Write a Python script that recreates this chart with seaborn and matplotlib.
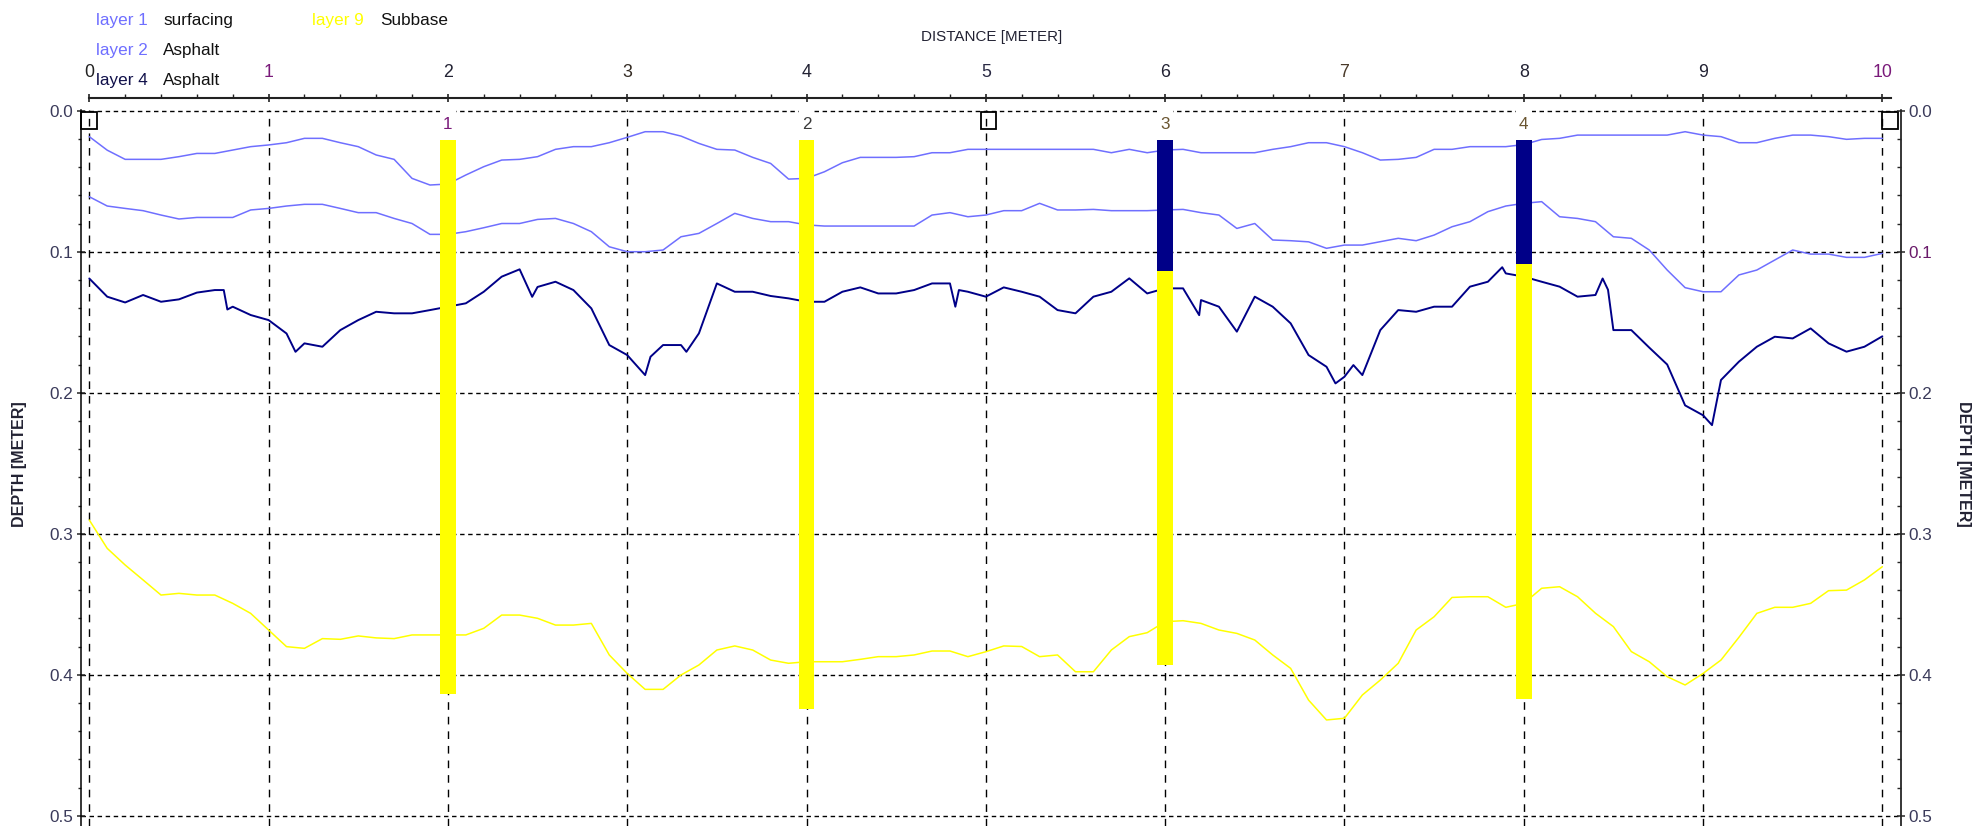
import numpy as np
import pandas as pd
import matplotlib
matplotlib.use("Agg")
import matplotlib.pyplot as plt
from matplotlib import font_manager
from matplotlib.patches import Rectangle
from matplotlib.ticker import MultipleLocator
import seaborn as sns

# ---------------- data ----------------
distance = np.round(np.arange(0, 10.0001, 0.1), 1)

layer1_depth = [
    0.0184, 0.0280, 0.0345, 0.0345, 0.0345, 0.0326, 0.0303, 0.0303, 0.0279, 0.0255,
    0.0243, 0.0227, 0.0196, 0.0196, 0.0227, 0.0255, 0.0314, 0.0345, 0.0480, 0.0527,
    0.0520, 0.0456, 0.0397, 0.0350, 0.0345, 0.0326, 0.0274, 0.0255, 0.0255, 0.0227,
    0.0189, 0.0149, 0.0149, 0.0180, 0.0232, 0.0274, 0.0279, 0.0331, 0.0374, 0.0485,
    0.0480, 0.0433, 0.0369, 0.0331, 0.0331, 0.0331, 0.0326, 0.0298, 0.0298, 0.0274,
    0.0274, 0.0274, 0.0274, 0.0274, 0.0274, 0.0274, 0.0274, 0.0298, 0.0274, 0.0298,
    0.0279, 0.0274, 0.0298, 0.0298, 0.0298, 0.0298, 0.0274, 0.0255, 0.0227, 0.0227,
    0.0255, 0.0298, 0.0350, 0.0345, 0.0331, 0.0274, 0.0274, 0.0255, 0.0255, 0.0255,
    0.0240, 0.0204, 0.0196, 0.0173, 0.0173, 0.0173, 0.0173, 0.0173, 0.0173, 0.0149,
    0.0173, 0.0184, 0.0227, 0.0227, 0.0196, 0.0173, 0.0173, 0.0184, 0.0203, 0.0196,
    0.0196]

layer2_depth = [
    0.0610, 0.0676, 0.0693, 0.0709, 0.0740, 0.0768, 0.0757, 0.0757, 0.0757, 0.0704,
    0.0693, 0.0676, 0.0664, 0.0664, 0.0693, 0.0723, 0.0723, 0.0764, 0.0800, 0.0877,
    0.0877, 0.0858, 0.0830, 0.0800, 0.0800, 0.0771, 0.0764, 0.0800, 0.0858, 0.0965,
    0.1000, 0.1000, 0.0988, 0.0894, 0.0870, 0.0800, 0.0728, 0.0764, 0.0787, 0.0787,
    0.0810, 0.0818, 0.0818, 0.0818, 0.0818, 0.0818, 0.0818, 0.0740, 0.0723, 0.0752,
    0.0740, 0.0709, 0.0709, 0.0657, 0.0704, 0.0704, 0.0700, 0.0709, 0.0709, 0.0709,
    0.0704, 0.0700, 0.0723, 0.0740, 0.0835, 0.0800, 0.0917, 0.0922, 0.0930, 0.0976,
    0.0953, 0.0953, 0.0929, 0.0905, 0.0922, 0.0882, 0.0823, 0.0787, 0.0716, 0.0676,
    0.0657, 0.0645, 0.0752, 0.0764, 0.0787, 0.0894, 0.0905, 0.0988, 0.1130, 0.1255,
    0.1284, 0.1284, 0.1165, 0.1130, 0.1059, 0.0988, 0.1017, 0.1017, 0.1040, 0.1040,
    0.1012]

layer9_depth = [
    0.2903, 0.3104, 0.3222, 0.3328, 0.3435, 0.3423, 0.3435, 0.3435, 0.3494, 0.3565,
    0.3683, 0.3801, 0.3813, 0.3744, 0.3749, 0.3725, 0.3739, 0.3744, 0.3718, 0.3718,
    0.3718, 0.3718, 0.3671, 0.3577, 0.3577, 0.3600, 0.3648, 0.3648, 0.3636, 0.3860,
    0.3991, 0.4104, 0.4104, 0.4002, 0.3931, 0.3825, 0.3796, 0.3825, 0.3896, 0.3919,
    0.3908, 0.3908, 0.3908, 0.3891, 0.3872, 0.3872, 0.3860, 0.3832, 0.3832, 0.3872,
    0.3837, 0.3796, 0.3800, 0.3872, 0.3860, 0.3979, 0.3979, 0.3825, 0.3730, 0.3702,
    0.3624, 0.3617, 0.3636, 0.3683, 0.3707, 0.3754, 0.3860, 0.3955, 0.4180, 0.4321,
    0.4309, 0.4144, 0.4038, 0.3919, 0.3683, 0.3589, 0.3452, 0.3447, 0.3447, 0.3522,
    0.3494, 0.3387, 0.3376, 0.3447, 0.3564, 0.3659, 0.3836, 0.3908, 0.4014, 0.4073,
    0.3991, 0.3896, 0.3735, 0.3565, 0.3522, 0.3522, 0.3494, 0.3404, 0.3400, 0.3328,
    0.3234]

layer4_distance = [
    0.0, 0.1, 0.2, 0.3, 0.4, 0.5, 0.6, 0.7, 0.75, 0.77, 0.8, 0.9, 1.0, 1.1, 1.15, 1.2,
    1.3, 1.4, 1.5, 1.6, 1.7, 1.8, 1.9, 2.0, 2.1, 2.2, 2.3, 2.4, 2.47, 2.5, 2.6, 2.7,
    2.8, 2.9, 3.0, 3.1, 3.13, 3.2, 3.3, 3.33, 3.4, 3.5, 3.6, 3.7, 3.8, 3.9, 4.0, 4.1,
    4.2, 4.3, 4.4, 4.5, 4.6, 4.7, 4.8, 4.83, 4.85, 4.9, 5.0, 5.1, 5.2, 5.3, 5.4, 5.5,
    5.6, 5.7, 5.8, 5.9, 6.0, 6.1, 6.19, 6.2, 6.3, 6.4, 6.5, 6.6, 6.7, 6.8, 6.9, 6.95,
    7.0, 7.05, 7.1, 7.2, 7.3, 7.4, 7.5, 7.6, 7.7, 7.8, 7.88, 7.9, 8.0, 8.1, 8.2, 8.3,
    8.4, 8.44, 8.47, 8.5, 8.6, 8.7, 8.8, 8.9, 9.0, 9.05, 9.1, 9.2, 9.3, 9.4, 9.5, 9.6,
    9.7, 9.8, 9.9, 10.0]
layer4_depth = [
    0.1190, 0.1319, 0.1360, 0.1307, 0.1355, 0.1338, 0.1290, 0.1272, 0.1272, 0.1410,
    0.1390, 0.1449, 0.1485, 0.1580, 0.1710, 0.1650, 0.1674, 0.1556, 0.1485, 0.1426,
    0.1437, 0.1437, 0.1414, 0.1390, 0.1366, 0.1284, 0.1177, 0.1125, 0.1320, 0.1250,
    0.1213, 0.1272, 0.1402, 0.1662, 0.1733, 0.1875, 0.1745, 0.1662, 0.1662, 0.1710,
    0.1579, 0.1225, 0.1284, 0.1284, 0.1314, 0.1331, 0.1355, 0.1355, 0.1284, 0.1253,
    0.1296, 0.1296, 0.1272, 0.1225, 0.1225, 0.1390, 0.1272, 0.1284, 0.1319, 0.1253,
    0.1284, 0.1319, 0.1414, 0.1437, 0.1319, 0.1284, 0.1189, 0.1296, 0.1260, 0.1260,
    0.1450, 0.1343, 0.1390, 0.1567, 0.1319, 0.1390, 0.1508, 0.1733, 0.1816, 0.1934,
    0.1887, 0.1804, 0.1875, 0.1556, 0.1414, 0.1426, 0.1390, 0.1390, 0.1248, 0.1213,
    0.1110, 0.1154, 0.1177, 0.1213, 0.1248, 0.1319, 0.1307, 0.1190, 0.1270, 0.1556,
    0.1556, 0.1680, 0.1800, 0.2090, 0.2160, 0.2230, 0.1910, 0.1780, 0.1674, 0.1603,
    0.1615, 0.1544, 0.1650, 0.1709, 0.1674, 0.1600]

core_x = [2, 4, 6, 8]
core_labels = ["1", "2", "3", "4"]
core_top = 0.021
core_bottom = [0.414, 0.424, 0.393, 0.417]
core_asphalt_bottom = [np.nan, np.nan, 0.114, 0.109]

marker_x = [0, 5, 10]

x_ticks = list(range(0, 11))
y_ticks = [0.0, 0.1, 0.2, 0.3, 0.4, 0.5]
y_tick_labels = ["0.0", "0.1", "0.2", "0.3", "0.4", "0.5"]

legend_layers = ["layer 1", "layer 2", "layer 4", "layer 9"]
legend_names = ["surfacing", "Asphalt", "Asphalt", "Subbase"]

# ---------------- style ----------------
sns.set_style("white")
available = {f.name for f in font_manager.fontManager.ttflist}
if "Liberation Sans Narrow" in available:
    NARROW, K = "Liberation Sans Narrow", 1.0
else:
    NARROW, K = "Liberation Sans", 0.85
plt.rcParams["font.family"] = ["Liberation Sans", "DejaVu Sans"]

LIGHT = "#6f6fff"
NAVY = "#000088"
YEL = "#ffff00"
TXT = "#222233"

W, H = 1986, 826
fig = plt.figure(figsize=(W / 100, H / 100), dpi=100)
fig.patch.set_facecolor("white")
ax = fig.add_axes([80.5 / W, 0.0, (1901 - 80.5) / W, (826 - 110) / H])
ax2 = ax.twinx()

XL = (-0.049, 10.104)
YL = (0.5073, -0.0005)

# lines
df = pd.DataFrame({"distance": distance, "l1": layer1_depth,
                   "l2": layer2_depth, "l9": layer9_depth})
df4 = pd.DataFrame({"distance": layer4_distance, "l4": layer4_depth})
sns.lineplot(data=df, x="distance", y="l1", ax=ax, color=LIGHT, linewidth=1.1,
             estimator=None, sort=False, zorder=2)
sns.lineplot(data=df, x="distance", y="l2", ax=ax, color=LIGHT, linewidth=1.1,
             estimator=None, sort=False, zorder=2)
sns.lineplot(data=df4, x="distance", y="l4", ax=ax, color=NAVY, linewidth=1.4,
             estimator=None, sort=False, zorder=2)
sns.lineplot(data=df, x="distance", y="l9", ax=ax, color=YEL, linewidth=1.1,
             estimator=None, sort=False, zorder=2)

# cores
bw = 0.0875
cx = np.array(core_x, dtype=float)
cb = np.array(core_bottom)
ax.bar(cx, core_top + 0.0015, bottom=-0.0015, width=bw, color="white",
       linewidth=0, zorder=2.5)
ax.bar(cx, cb - core_top, bottom=core_top, width=bw, color=YEL, linewidth=0, zorder=3)
ab = np.array(core_asphalt_bottom)
m = ~np.isnan(ab)
ax.bar(cx[m], ab[m] - core_top, bottom=core_top, width=bw, color=NAVY,
       linewidth=0, zorder=3.1)
lab_colors = ["#7a1a7a", "#3a3a3a", "#6a5530", "#6a5530"]
for x, t, c in zip(core_x, core_labels, lab_colors):
    ax.text(x, 0.0095, t, ha="center", va="center", fontsize=14.5 * K,
            family=NARROW, color=c, zorder=6)

# small square markers
offs = [-0.044, -0.029, 0.0]
for x, o in zip(marker_x, offs):
    ax.add_patch(Rectangle((x + o, 0.0007), 0.085, 0.0125, fill=False,
                           edgecolor="black", linewidth=1.3, zorder=6, clip_on=False))

# axes limits / spines
for a in (ax, ax2):
    a.set_xlim(*XL)
    a.set_ylim(*YL)
    a.set_xlabel("")
    a.set_ylabel("")
for s in ax2.spines.values():
    s.set_visible(False)
ax.spines["bottom"].set_visible(False)
for side in ("left", "right"):
    ax.spines[side].set_visible(True)
    ax.spines[side].set_color("black")
    ax.spines[side].set_linewidth(1.1)
ax.spines["top"].set_visible(True)
ax.spines["top"].set_color("#222222")
ax.spines["top"].set_linewidth(1.5)
ax.spines["top"].set_position(("outward", 12 * 0.72))
ax.spines["top"].set_bounds(0, 10.05)

# grid
ax.set_axisbelow(True)
ax.set_xticks(x_ticks)
ax.set_yticks(y_ticks)
ax.xaxis.grid(True, color="black", linewidth=1.0, linestyle=(0, (5.5, 5)))
ax.yaxis.grid(True, color="black", linewidth=1.0, linestyle=(0, (3.2, 2.6)))

# x axis on top
ax.xaxis.set_ticks_position("top")
ax.xaxis.set_minor_locator(MultipleLocator(0.2))
ax.set_xticklabels([str(v) for v in x_ticks], family=NARROW, fontsize=15 * K)
ax.tick_params(axis="x", which="major", direction="inout", length=6, width=1.2,
               pad=9, colors="#222222", top=True, bottom=False,
               labeltop=True, labelbottom=False)
ax.tick_params(axis="x", which="minor", direction="out", length=3, width=1.0,
               top=True, bottom=False, colors="#222222")
xl_colors = ["#222222", "#7a1a7a", "#222233", "#332a22", "#222233", "#2a2a44",
             "#222233", "#4a3a2a", "#222233", "#222233", "#7a1a7a"]
for t, c in zip(ax.get_xticklabels(), xl_colors):
    t.set_color(c)

# y axis left
ax.yaxis.set_ticks_position("left")
ax.yaxis.set_minor_locator(MultipleLocator(0.02))
ax.set_yticklabels(y_tick_labels, family=NARROW, fontsize=14.5 * K, color="#3a3a5a")
ax.tick_params(axis="y", which="major", direction="inout", length=6, width=1.1, pad=2)
ax.tick_params(axis="y", which="minor", direction="out", length=2.5, width=1.0)

# y axis right
ax2.set_yticks(y_ticks)
ax2.yaxis.set_minor_locator(MultipleLocator(0.02))
ax2.set_yticklabels(y_tick_labels, family=NARROW, fontsize=14.5 * K, color="#3a3a5a")
ax2.tick_params(axis="y", which="major", direction="inout", length=6, width=1.1, pad=2.5)
ax2.tick_params(axis="y", which="minor", direction="in", length=3, width=1.0)
ax2.get_yticklabels()[1].set_color("#6a1a6a")

# legend-like header texts
rows_y = [20.7, 50.7, 80.0]
lay_colors = [LIGHT, LIGHT, "#10104a", YEL]
pos = [(96, rows_y[0]), (96, rows_y[1]), (96, rows_y[2]), (312.5, rows_y[0])]
name_dx = [67, 67, 67, 67.5]
for (px, py), lay, nm, lc, dx in zip(pos, legend_layers, legend_names, lay_colors, name_dx):
    fig.text(px / W, 1 - py / H, lay, ha="left", va="center", family=NARROW,
             fontsize=14.5 * K, color=lc)
    fig.text((px + dx) / W, 1 - py / H, nm, ha="left", va="center", family=NARROW,
             fontsize=14.5 * K, color="#111111")

fig.text(991.7 / W, 1 - 36.7 / H, "DISTANCE [METER]", ha="center", va="center",
         family=NARROW, fontsize=12.8 * K, color=TXT)
fig.text(20 / W, 1 - 464 / H, "DEPTH [METER]", rotation=90, ha="center", va="center",
         fontsize=11.5, fontweight="bold", color=TXT)
fig.text(1963 / W, 1 - 464 / H, "DEPTH [METER]", rotation=270, ha="center", va="center",
         fontsize=11.5, fontweight="bold", color=TXT)

fig.savefig("out.png", dpi=100, facecolor="white")
